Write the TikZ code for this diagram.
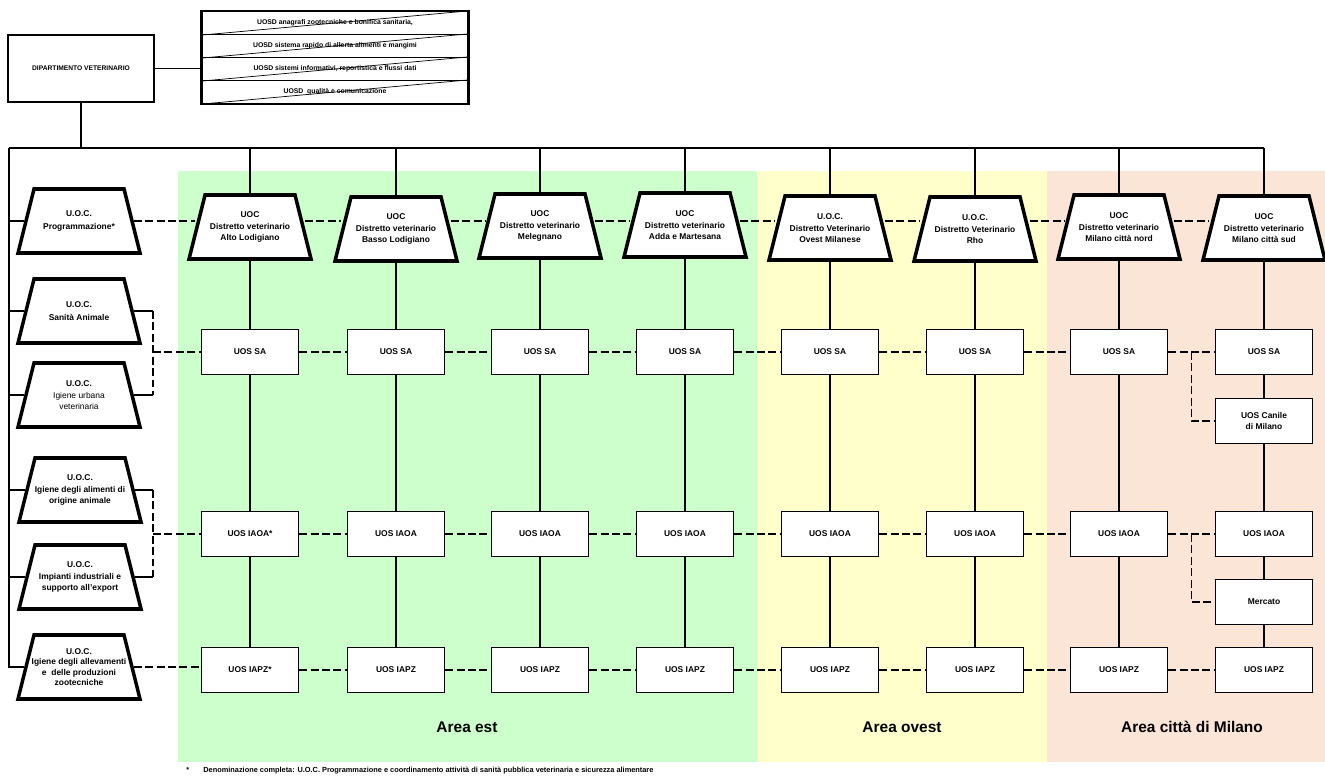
\documentclass[tikz,border=0pt]{standalone}
\usepackage{fontspec}
\setmainfont{Liberation Sans}
\usetikzlibrary{calc}
\newcommand\pxu{0.02cm}
\newcommand\boxfont{\fontsize{4.8}{6}\selectfont\bfseries}
\definecolor{areaest}{HTML}{CCFFCC}
\definecolor{areaovest}{HTML}{FFFFCC}
\definecolor{areamilano}{HTML}{FBE5D6}
\tikzset{
	link/.style={line width=0.75pt},
	dlink/.style={link, dash pattern=on 4.5pt off 2pt},
	deptbox/.style={rectangle, draw, line width=0.9pt, minimum width=146*\pxu, minimum height=67*\pxu, font=\fontsize{3.8}{4.5}\selectfont\bfseries},
	uosd/.style={rectangle, draw, line width=0.7pt, minimum width=266*\pxu, minimum height=23*\pxu, inner sep=0pt, font=\fontsize{3.9}{4.5}\selectfont\bfseries},
	uocline/.style={draw, line width=2pt, line join=miter, fill=white},
	uoc/.style={rectangle, minimum width=106*\pxu, minimum height=64*\pxu, inner sep=0pt, outer sep=1pt, align=center, font=\boxfont},
	uos/.style={rectangle, draw, line width=0.8pt, fill=white, minimum width=97*\pxu, minimum height=45*\pxu, align=center, font=\boxfont},
	area/.style={anchor=base, font=\fontsize{8.8}{10}\selectfont\bfseries},
	nota/.style={anchor=base west, inner sep=0pt, font=\fontsize{4.2}{5}\selectfont\bfseries}
}
\def\uocbox(#1)(#2)#3{\draw[uocline] ($(#2)+(-61,32)$) -- ($(#2)+(-45,-32)$) -- ($(#2)+(45,-32)$) -- ($(#2)+(61,32)$) -- cycle; \node[uoc] (#1) at (#2) {#3};}

\begin{document}
\begin{tikzpicture}[x=\pxu, y=-\pxu]
				\useasboundingbox (0,0) rectangle (1325,776);
				\fill[areaest] (178,171) rectangle (757,762);
				\fill[areaovest] (757,171) rectangle (1047,762);
				\fill[areamilano] (1047,171) rectangle (1325,762);
				\node[area] (aest) at (467,732) {Area est};
				\node[area] (aovest) at (902,732) {Area ovest};
				\node[area] (amilano) at (1192,732) {Area città di Milano};

				\node[deptbox] (dip) at (81,68.5) {DIPARTIMENTO VETERINARIO};
				\node[uosd] (uosd1) at (335,23) {UOSD anagrafi zootecniche e bonifica sanitaria,};
				\node[uosd] (uosd2) at (335,46) {UOSD sistema rapido di allerta alimenti e mangimi};
				\node[uosd] (uosd3) at (335,69) {UOSD sistemi informativi, reportistica e flussi dati};
				\node[uosd] (uosd4) at (335,92) {UOSD~ qualità e comunicazione};
				\draw[line width=1.2pt] (uosd1.north west) rectangle (uosd4.south east);
				\draw[thin] (uosd1.south west) -- (uosd1.north east) (uosd2.south west) -- (uosd2.north east);
				\draw[thin] (uosd3.south west) -- (uosd3.north east) (uosd4.south west) -- (uosd4.north east);

				\uocbox(prog)(79,221){U.O.C.\\[1pt]Programmazione*}
				\uocbox(sanita)(79,311){U.O.C.\\[1pt]Sanità Animale}
				\uocbox(urbana)(79,395){U.O.C.\\[1pt]\mdseries Igiene urbana\\\mdseries veterinaria}
				\uocbox(alim)(80,490){U.O.C.\\[1pt]Igiene degli alimenti di\\origine animale}
				\uocbox(impi)(80,577){U.O.C.\\[1pt]Impianti industriali e\\supporto all'export}
				\uocbox(alle)(79,667){U.O.C.\\Igiene degli allevamenti\\e~ delle produzioni\\zootecniche}

				\uocbox(d1)(250,227){UOC\\[1pt]Distretto veterinario\\Alto Lodigiano}
				\uocbox(d2)(396,229){UOC\\[1pt]Distretto veterinario\\Basso Lodigiano}
				\uocbox(d3)(540,226){UOC\\[1pt]Distretto veterinario\\Melegnano}
				\uocbox(d4)(685,225){UOC\\[1pt]Distretto veterinario\\Adda e Martesana}
				\uocbox(d5)(830,228){U.O.C.\\[1pt]Distretto Veterinario\\Ovest Milanese}
				\uocbox(d6)(975,229){U.O.C.\\[1pt]Distretto Veterinario\\Rho}
				\uocbox(d7)(1119,227){UOC\\[1pt]Distretto veterinario\\Milano città nord}
				\uocbox(d8)(1264,228){UOC\\[1pt]Distretto veterinario\\Milano città sud}

				\node[uos] (sa1) at (250,352) {UOS SA};
				\node[uos] (sa2) at (396,352) {UOS SA};
				\node[uos] (sa3) at (540,352) {UOS SA};
				\node[uos] (sa4) at (685,352) {UOS SA};
				\node[uos] (sa5) at (830,352) {UOS SA};
				\node[uos] (sa6) at (975,352) {UOS SA};
				\node[uos] (sa7) at (1119,352) {UOS SA};
				\node[uos] (sa8) at (1264,352) {UOS SA};
				\node[uos] (can) at (1264,421) {UOS Canile\\di Milano};

				\node[uos] (ia1) at (250,534) {UOS IAOA*};
				\node[uos] (ia2) at (396,534) {UOS IAOA};
				\node[uos] (ia3) at (540,534) {UOS IAOA};
				\node[uos] (ia4) at (685,534) {UOS IAOA};
				\node[uos] (ia5) at (830,534) {UOS IAOA};
				\node[uos] (ia6) at (975,534) {UOS IAOA};
				\node[uos] (ia7) at (1119,534) {UOS IAOA};
				\node[uos] (ia8) at (1264,534) {UOS IAOA};
				\node[uos] (mer) at (1264,602) {Mercato};

				\node[uos] (pz1) at (250,670) {UOS IAPZ*};
				\node[uos] (pz2) at (396,670) {UOS IAPZ};
				\node[uos] (pz3) at (540,670) {UOS IAPZ};
				\node[uos] (pz4) at (685,670) {UOS IAPZ};
				\node[uos] (pz5) at (830,670) {UOS IAPZ};
				\node[uos] (pz6) at (975,670) {UOS IAPZ};
				\node[uos] (pz7) at (1119,670) {UOS IAPZ};
				\node[uos] (pz8) at (1264,670) {UOS IAPZ};

				\coordinate (busL) at (9,148);
				\coordinate (busR) at (1264,148);
				\coordinate (brSA) at (153,352);
				\coordinate (brIA) at (153,534);
				\draw[link] (dip.east) -- (dip.east -| uosd3.west);
				\draw[link] (dip.south) -- (dip.south |- busL);
				\draw[link] (busL) -- (busR);
				\draw[link] (busL) |- (alle.west);
				\draw[link] (busL |- prog.west) -- (prog.west) (busL |- sanita.west) -- (sanita.west) (busL |- urbana.west) -- (urbana.west);
				\draw[link] (busL |- alim.west) -- (alim.west) (busL |- impi.west) -- (impi.west);

				\draw[link] (d1.north |- busL) -- (d1.north) (d1.south) -- (sa1.north) (sa1.south) -- (ia1.north) (ia1.south) -- (pz1.north);
				\draw[link] (d2.north |- busL) -- (d2.north) (d2.south) -- (sa2.north) (sa2.south) -- (ia2.north) (ia2.south) -- (pz2.north);
				\draw[link] (d3.north |- busL) -- (d3.north) (d3.south) -- (sa3.north) (sa3.south) -- (ia3.north) (ia3.south) -- (pz3.north);
				\draw[link] (d4.north |- busL) -- (d4.north) (d4.south) -- (sa4.north) (sa4.south) -- (ia4.north) (ia4.south) -- (pz4.north);
				\draw[link] (d5.north |- busL) -- (d5.north) (d5.south) -- (sa5.north) (sa5.south) -- (ia5.north) (ia5.south) -- (pz5.north);
				\draw[link] (d6.north |- busL) -- (d6.north) (d6.south) -- (sa6.north) (sa6.south) -- (ia6.north) (ia6.south) -- (pz6.north);
				\draw[link] (d7.north |- busL) -- (d7.north) (d7.south) -- (sa7.north) (sa7.south) -- (ia7.north) (ia7.south) -- (pz7.north);
				\draw[link] (d8.north |- busL) -- (d8.north) (d8.south) -- (sa8.north) (sa8.south) -- (can.north) (can.south) -- (ia8.north) (ia8.south) -- (mer.north) (mer.south) -- (pz8.north);

				\draw[dlink] (prog.east) -- (prog.east -| d1.west) (d1.east |- prog.east) -- (d2.west |- prog.east) (d2.east |- prog.east) -- (d3.west |- prog.east) (d3.east |- prog.east) -- (d4.west |- prog.east);
				\draw[dlink] (d4.east |- prog.east) -- (d5.west |- prog.east) (d5.east |- prog.east) -- (d6.west |- prog.east) (d6.east |- prog.east) -- (d7.west |- prog.east) (d7.east |- prog.east) -- (d8.west |- prog.east);

				\draw[link] (sanita.east) -- (sanita.east -| brSA) (urbana.east) -- (urbana.east -| brSA);
				\draw[dlink] (sanita.east -| brSA) -- (urbana.east -| brSA) (brSA) -- (sa1.west);
				\draw[dlink] (sa1) -- (sa2) (sa2) -- (sa3) (sa3) -- (sa4) (sa4) -- (sa5) (sa5) -- (sa6) (sa6) -- (sa7) (sa7) -- (sa8);
				\draw[dlink] ($(sa7.east)!0.5!(sa8.west)$) |- (can.west);

				\draw[link] (alim.east) -- (alim.east -| brIA) (impi.east) -- (impi.east -| brIA);
				\draw[dlink] (alim.east -| brIA) -- (impi.east -| brIA) (brIA) -- (ia1.west);
				\draw[dlink] (ia1) -- (ia2) (ia2) -- (ia3) (ia3) -- (ia4) (ia4) -- (ia5) (ia5) -- (ia6) (ia6) -- (ia7) (ia7) -- (ia8);
				\draw[dlink] ($(ia7.east)!0.5!(ia8.west)$) |- (mer.west);

				\draw[dlink] (alle.east) -- (alle.east -| pz1.west);
				\draw[dlink] (pz1) -- (pz2) (pz2) -- (pz3) (pz3) -- (pz4) (pz4) -- (pz5) (pz5) -- (pz6) (pz6) -- (pz7) (pz7) -- (pz8);

				\node[nota] (ast) at (186,772) {*};
				\node[nota] (nota) at (203,772) {Denominazione completa: U.O.C. Programmazione e coordinamento attività di sanità pubblica veterinaria e sicurezza alimentare};
\end{tikzpicture}
\end{document}
